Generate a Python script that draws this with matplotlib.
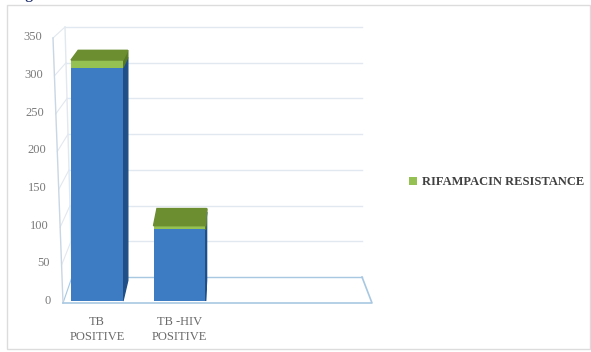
import matplotlib
matplotlib.use('Agg')
import matplotlib.pyplot as plt
from matplotlib.patches import Polygon, Rectangle

plt.rcParams['font.family'] = ['Liberation Serif', 'DejaVu Serif']

# data
categories = ['TB\nPOSITIVE', 'TB -HIV\nPOSITIVE']
tb_cases = [310, 95]
rifampacin = [10, 5]
yticks = [0, 50, 100, 150, 200, 250, 300, 350]

W, H = 591, 352
fig = plt.figure(figsize=(W / 100, H / 100), dpi=100)

# decoration layer in image pixels (y down)
deco = fig.add_axes([0, 0, 1, 1], zorder=0)
deco.set_xlim(0, W)
deco.set_ylim(H, 0)
deco.axis('off')

# chart area border
deco.add_patch(Rectangle((7, 5), 583, 344, fill=False, ec='#dcdcdc', lw=1))

# 3d walls: front-left edge (53,38)-(63,303), back-left (65,27)-(72,277), back-right x 362
grid_c = '#e2e8ef'
floor_c = '#a8c8e2'
for v in yticks:
    yb = 277 - v * 250 / 350
    xb = 72 - 7 * (277 - yb) / 250
    yf = 303 - v * 265 / 350
    xf = 63 - 10 * (303 - yf) / 265
    c = floor_c if v == 0 else grid_c
    deco.plot([xb, 362], [yb, yb], color=c, lw=1)
    deco.plot([xf, xb], [yf, yb], color=c, lw=0.8)
deco.plot([63, 53], [303, 38], color='#c9d6e3', lw=1)
deco.plot([72, 65], [277, 27], color=grid_c, lw=1)
deco.plot([63, 372, 362], [303, 303, 277], color=floor_c, lw=1.2)

# data axes (front plane of the bars)
y0_px = 301
scale = 0.753
bx = fig.add_axes([63 / W, (H - y0_px) / H, (372 - 63) / W, 350 * scale / H], zorder=2)
bx.patch.set_alpha(0)
bx.set_ylim(0, 350)
bx.set_xlim(-0.412, 3.333)
for s in bx.spines.values():
    s.set_visible(False)

x = [0, 1]
width = 0.63
blue, blue_side = '#3d7bc3', '#1f4f86'
green, green_top, green_side = '#94c152', '#6c8e31', '#587a26'

bx.bar(x, tb_cases, width, color=blue, label='_nolegend_', zorder=3)
bx.bar(x, rifampacin, width, bottom=tb_cases, color=green,
       label='RIFAMPACIN RESISTANCE', zorder=3)

# side and top faces with a simple perspective toward a vanishing point
vp = (230, H + 156)  # display coords
kb = 0.045
to_disp = bx.transData.transform
to_data = bx.transData.inverted().transform


def back(pt):
    d = to_disp(pt)
    return to_data((d[0] + (vp[0] - d[0]) * kb, d[1] + (vp[1] - d[1]) * kb))


for xi, b, g in zip(x, tb_cases, rifampacin):
    x0, x1 = xi - width / 2, xi + width / 2
    top = b + g
    for lo, hi, col in [(0, b, blue_side), (b, top, green_side)]:
        pts = [(x1, lo), (x1, hi), back((x1, hi)), back((x1, lo))]
        bx.add_patch(Polygon(pts, closed=True, color=col, zorder=2, clip_on=False))
    pts = [(x0, top), (x1, top), back((x1, top)), back((x0, top))]
    bx.add_patch(Polygon(pts, closed=True, color=green_top, zorder=4, clip_on=False))

# y labels follow the slanted front edge
bx.set_yticks([])
for v in yticks:
    off_px = 12 + 9 * v / 350
    bx.annotate(str(v), xy=(0, v), xycoords=('axes fraction', 'data'),
                xytext=(-off_px * 0.72, 0), textcoords='offset points',
                ha='right', va='center', fontsize=9, color='#7a7a7a')

bx.set_xticks(x)
bx.set_xticklabels(categories, fontsize=9, color='#6a6a6a', linespacing=1.35)
bx.tick_params(axis='x', length=0, pad=11)

leg = bx.legend(loc='center left', bbox_to_anchor=(398 / W, 1 - 182 / H),
                bbox_transform=fig.transFigure, frameon=False, fontsize=9,
                handlelength=0.6, handleheight=0.6, handletextpad=0.4)
for t in leg.get_texts():
    t.set_color('#404040')
    t.set_fontweight('bold')

# caption fragment cut off at the top
fig.text(13 / W, 1 + 1 / H, 'Figure', fontsize=11, color='#1f2f6b',
         fontweight='bold', va='baseline')

fig.savefig('out.png', dpi=100)
